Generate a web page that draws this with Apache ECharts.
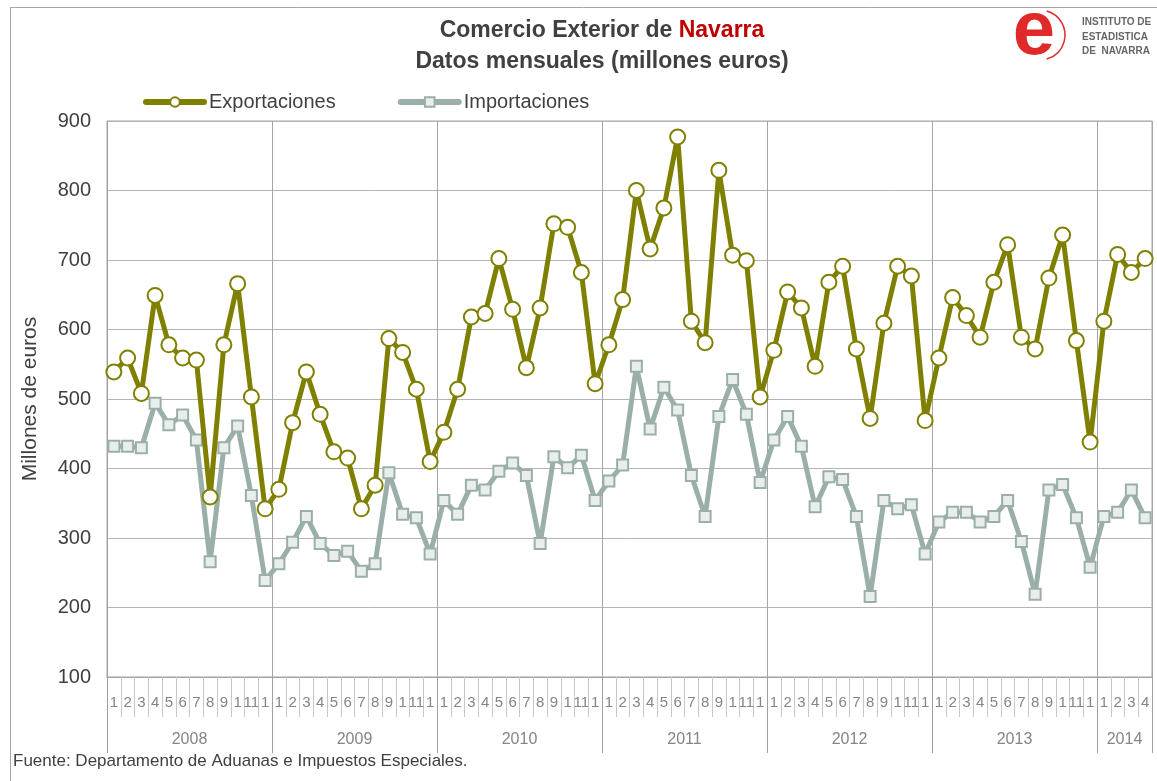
<!DOCTYPE html>
<html>
<head>
<meta charset="utf-8">
<script src="https://cdn.jsdelivr.net/npm/echarts@6/dist/echarts.min.js"></script>
<style>html,body{margin:0;padding:0;background:#fff;}#chart{width:1157px;height:781px;}</style>
</head>
<body>
<div id="chart"></div>
<script>
// ---- Data ----
const years = ['2008', '2009', '2010', '2011', '2012', '2013', '2014'];
const monthsInYear = [12, 12, 12, 12, 12, 12, 4];
const monthTickLabels = ['1','2','3','4','5','6','7','8','9','1','11','1'];
const exportaciones = [
  539, 559, 508, 649, 578, 559, 556, 359, 578, 666, 503, 342,
  370, 466, 539, 478, 424, 415, 342, 376, 587, 567, 514, 410,
  452, 514, 618, 623, 702, 629, 545, 631, 752, 747, 682, 522,
  578, 643, 800, 716, 775, 877, 612, 581, 829, 707, 699, 503,
  570, 654, 631, 547, 668, 691, 572, 472, 609, 691, 677, 469,
  559, 646, 620, 589, 668, 722, 589, 572, 674, 736, 584, 438,
  612, 708, 682, 702
];
const importaciones = [
  432, 432, 430, 494, 463, 477, 441, 266, 430, 461, 361, 239,
  263, 294, 331, 292, 275, 281, 252, 263, 394, 334, 329, 277,
  354, 334, 376, 369, 396, 408, 390, 292, 417, 401, 419, 354,
  382, 405, 547, 457, 517, 484, 390, 331, 475, 528, 478, 380,
  441, 475, 432, 345, 388, 384, 331, 216, 354, 342, 348, 277,
  323, 337, 337, 323, 331, 354, 295, 219, 369, 377, 329, 258,
  331, 337, 369, 329
];

// ---- Derived axis helpers ----
const categories = [];
const yearBounds = [0];
const yearMids = [];
let acc = 0;
monthsInYear.forEach((n, yi) => {
  for (let m = 0; m < n; m++) categories.push(monthTickLabels[m]);
  yearMids.push(acc + n / 2);
  acc += n;
  yearBounds.push(acc);
});
const yearStartSet = new Set(yearBounds);

const FONT = 'Liberation Sans, Arial, sans-serif';
const chart = echarts.init(document.getElementById('chart'));
chart.setOption({
  animation: false,
  backgroundColor: '#ffffff',
  textStyle: { fontFamily: FONT },
  grid: { left: 107, right: 5, top: 121, bottom: 104, show: true, borderColor: '#a6a6a6', borderWidth: 1 },
  legend: {
    left: 138, top: 87,
    itemWidth: 58, itemHeight: 12, itemGap: 62,
    lineStyle: { width: 6, cap: 'round' },
    textStyle: { fontSize: 20, color: '#404040', fontFamily: FONT },
    data: ['Exportaciones', 'Importaciones']
  },
  xAxis: [
    {
      type: 'category',
      data: categories,
      boundaryGap: true,
      axisLine: { show: true, lineStyle: { color: '#a0a0a0', width: 1 } },
      axisTick: { show: true, interval: 0, length: 40, lineStyle: { color: '#c8c8c8' } },
      axisLabel: { interval: 0, fontSize: 15, color: '#858585', margin: 18, fontFamily: FONT },
      splitLine: { show: true, interval: (i) => yearStartSet.has(i), lineStyle: { color: '#a6a6a6', width: 1 } }
    },
    {
      type: 'value',
      min: 0, max: acc,
      position: 'bottom',
      axisLine: { show: false },
      splitLine: { show: false },
      axisTick: { show: true, customValues: yearBounds, length: 76, lineStyle: { color: '#a0a0a0' } },
      axisLabel: {
        show: true, customValues: yearMids, margin: 55, fontSize: 16, color: '#858585', fontFamily: FONT,
        formatter: (v) => { const i = yearMids.indexOf(v); return i >= 0 ? years[i] : ''; }
      }
    }
  ],
  yAxis: {
    type: 'value', min: 100, max: 900, interval: 100,
    name: 'Millones de euros', nameLocation: 'middle', nameRotate: 90, nameGap: 66,
    nameTextStyle: { fontSize: 21, color: '#404040', fontFamily: FONT },
    axisLine: { show: true, lineStyle: { color: '#a0a0a0' } },
    axisTick: { show: false },
    axisLabel: { fontSize: 20, color: '#404040', margin: 16, fontFamily: FONT },
    splitLine: { show: true, lineStyle: { color: '#b4b4b4', width: 1 } }
  },
  series: [
    {
      name: 'Importaciones', type: 'line', xAxisIndex: 0, data: importaciones,
      symbol: 'rect', symbolSize: 11, z: 2,
      lineStyle: { color: '#9bafaa', width: 5 },
      itemStyle: { color: '#e9eeed', borderColor: '#9bafaa', borderWidth: 2 }
    },
    {
      name: 'Exportaciones', type: 'line', xAxisIndex: 0, data: exportaciones,
      symbol: 'circle', symbolSize: 15, z: 3,
      lineStyle: { color: '#808000', width: 5 },
      itemStyle: { color: '#ffffff', borderColor: '#808000', borderWidth: 2 }
    }
  ],
  graphic: [
    { type: 'line', shape: { x1: 10.5, y1: 7, x2: 10.5, y2: 781 }, style: { stroke: '#a6a6a6', lineWidth: 1 }, silent: true },
    { type: 'line', shape: { x1: 10, y1: 7.5, x2: 1157, y2: 7.5 }, style: { stroke: '#a6a6a6', lineWidth: 1 }, silent: true },
    {
      type: 'text', x: 602, y: 31,
      style: {
        text: '{a|Comercio Exterior de }{b|Navarra}', align: 'center', verticalAlign: 'middle',
        rich: {
          a: { fontSize: 23, fontWeight: 'bold', fill: '#404040', fontFamily: FONT },
          b: { fontSize: 23, fontWeight: 'bold', fill: '#c00000', fontFamily: FONT }
        }
      }
    },
    {
      type: 'text', x: 602, y: 62,
      style: { text: 'Datos mensuales (millones euros)', fill: '#404040', fontSize: 23, fontWeight: 'bold', fontFamily: FONT, align: 'center', verticalAlign: 'middle' }
    },
    {
      type: 'text', x: 13, y: 761,
      style: { text: 'Fuente: Departamento de Aduanas e Impuestos Especiales.', fill: '#404040', fontSize: 17, fontFamily: FONT, align: 'left', verticalAlign: 'middle' }
    },
    {
      type: 'group', children: [
        { type: 'text', x: 1034, y: 33, style: { text: 'e', fill: '#e02a2a', fontSize: 76, fontWeight: 'bold', fontFamily: FONT, align: 'center', verticalAlign: 'middle' } },
        { type: 'arc', shape: { cx: 1040, cy: 35, r: 25, startAngle: -1.3, endAngle: 1.3 }, style: { stroke: '#e02a2a', lineWidth: 1.5, fill: null } },
        { type: 'text', x: 1082, y: 22, style: { text: 'INSTITUTO DE', fill: '#666666', fontSize: 10, fontWeight: 'bold', fontFamily: FONT, verticalAlign: 'middle' } },
        { type: 'text', x: 1082, y: 37, style: { text: 'ESTADISTICA', fill: '#666666', fontSize: 10, fontWeight: 'bold', fontFamily: FONT, verticalAlign: 'middle' } },
        { type: 'text', x: 1082, y: 51, style: { text: 'DE  NAVARRA', fill: '#666666', fontSize: 10, fontWeight: 'bold', fontFamily: FONT, verticalAlign: 'middle' } }
      ]
    }
  ]
});
</script>
</body>
</html>
